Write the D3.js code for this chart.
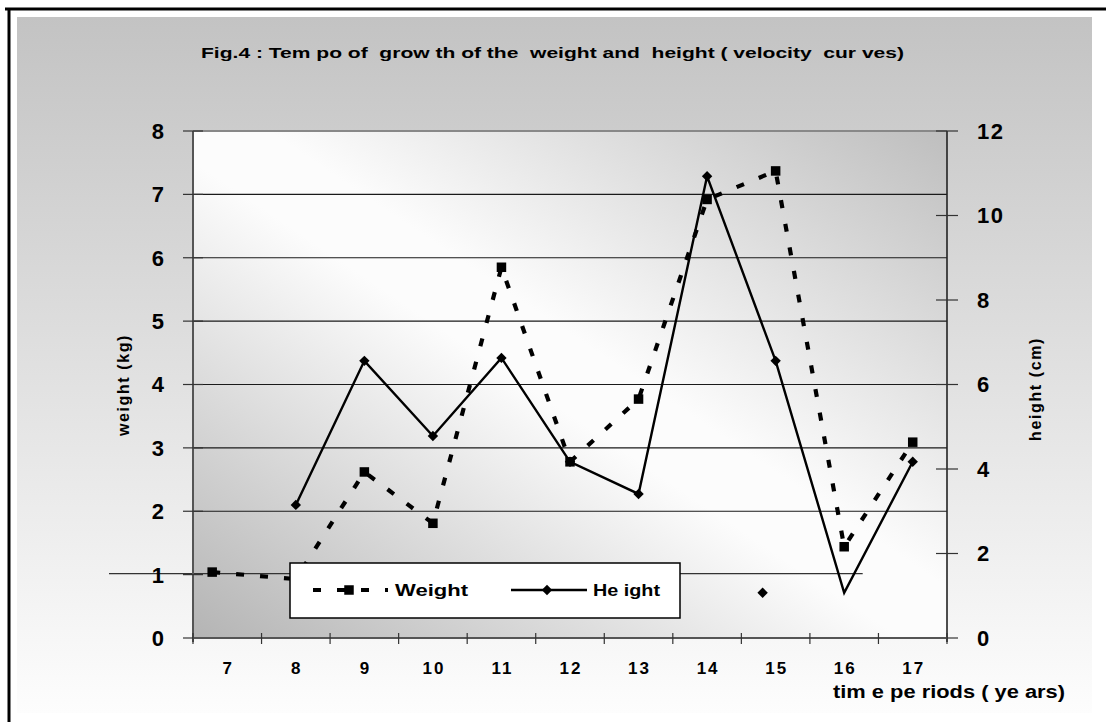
<!DOCTYPE html>
<html>
<head>
<meta charset="utf-8">
<script src="https://cdn.jsdelivr.net/npm/d3@7/dist/d3.min.js"></script>
<style>
  html, body { margin: 0; padding: 0; background: #ffffff; }
  svg { display: block; }
  text { font-family: "Liberation Sans", Arial, sans-serif; font-weight: bold; fill: #000; }
</style>
</head>
<body>
<svg id="chart" width="1106" height="722"></svg>
<script>
// Age periods (years) on the category axis
const years = [7, 8, 9, 10, 11, 12, 13, 14, 15, 16, 17];
// Yearly weight gain (kg), left axis
const weight = [1.04, 0.93, 2.62, 1.81, 5.85, 2.78, 3.77, 6.92, 7.37, 1.44, 3.09];
// Yearly height gain (cm), right axis
const height = [null, 3.15, 6.56, 4.78, 6.63, 4.17, 3.41, 10.93, 6.56, 1.07, 4.17];
// Where each marker sits along the time axis
const weightMarkerAt = [6.78, 8, 9, 10, 11, 12, 13, 14, 15, 16, 17];
const heightMarkerAt = [null, 8, 9, 10, 11, 12, 13, 14, 15, 14.81, 17];
// Tick values
const weightTicks = [0, 1, 2, 3, 4, 5, 6, 7, 8];
const heightTicks = [0, 2, 4, 6, 8, 10, 12];
const bandEdges = [6.5, 7.5, 8.5, 9.5, 10.5, 11.5, 12.5, 13.5, 14.5, 15.5, 16.5, 17.5];

const titleText = "Fig.4 : Tem po of  grow th of the  weight and  height ( velocity  cur ves)";
const xTitle = "tim e pe riods ( ye ars)";
const yLeftTitle = "weight (kg)";
const yRightTitle = "height (cm)";
const legendNames = ["Weight", "He ight"];

const svg = d3.select("#chart");
const W = 1106, H = 722;
const plot = { left: 193, right: 947, top: 131, bottom: 638 };

const x = d3.scaleLinear().domain([6.5, 17.5]).range([plot.left, plot.right]);
const yW = d3.scaleLinear().domain([0, 8]).range([plot.bottom, plot.top]);
const yH = d3.scaleLinear().domain([0, 12]).range([plot.bottom, plot.top]);

const defs = svg.append("defs");
const outerGrad = defs.append("linearGradient").attr("id", "outerGrad")
  .attr("x1", 0).attr("y1", 0).attr("x2", 0).attr("y2", 1);
outerGrad.append("stop").attr("offset", 0).attr("stop-color", "#c3c3c3");
outerGrad.append("stop").attr("offset", 1).attr("stop-color", "#fdfdfd");

const plotGrad = defs.append("linearGradient").attr("id", "plotGrad")
  .attr("x1", 0).attr("y1", 1).attr("x2", 1).attr("y2", 0);
plotGrad.append("stop").attr("offset", 0).attr("stop-color", "#b4b4b4");
plotGrad.append("stop").attr("offset", 0.47).attr("stop-color", "#fcfcfc");
plotGrad.append("stop").attr("offset", 0.55).attr("stop-color", "#fcfcfc");
plotGrad.append("stop").attr("offset", 1).attr("stop-color", "#bebebe");

// Frame
svg.append("rect").attr("x", 17).attr("y", 17).attr("width", 1075).attr("height", 696)
  .attr("fill", "url(#outerGrad)");
svg.append("line").attr("x1", 5).attr("x2", W).attr("y1", 9).attr("y2", 9)
  .attr("stroke", "#000").attr("stroke-width", 3);
svg.append("line").attr("x1", 9).attr("x2", 9).attr("y1", 8).attr("y2", H)
  .attr("stroke", "#000").attr("stroke-width", 3);

// Title
svg.append("text").attr("x", 201).attr("y", 58)
  .attr("font-size", 15).attr("textLength", 703).attr("lengthAdjust", "spacingAndGlyphs")
  .style("white-space", "pre")
  .text(titleText);

// Plot area
svg.append("rect")
  .attr("x", plot.left).attr("y", plot.top)
  .attr("width", plot.right - plot.left).attr("height", plot.bottom - plot.top)
  .attr("fill", "url(#plotGrad)");

// Horizontal gridlines on the weight scale
svg.append("g").selectAll("line")
  .data(weightTicks.filter(d => d >= 2 && d <= 7))
  .join("line")
  .attr("x1", plot.left).attr("x2", plot.right)
  .attr("y1", d => yW(d)).attr("y2", d => yW(d))
  .attr("stroke", "#1a1a1a").attr("stroke-width", 1.2);

// The 1 kg line runs out past the axis labels
svg.append("line")
  .attr("x1", plot.left - 84).attr("x2", x(16.27))
  .attr("y1", yW(1) - 1).attr("y2", yW(1) - 1)
  .attr("stroke", "#333").attr("stroke-width", 1.2);

// Top edge of plot
svg.append("line").attr("x1", plot.left).attr("x2", plot.right)
  .attr("y1", yW(8)).attr("y2", yW(8))
  .attr("stroke", "#888").attr("stroke-width", 2);

// Left axis
svg.append("line").attr("x1", plot.left).attr("x2", plot.left)
  .attr("y1", plot.top).attr("y2", plot.bottom + 4)
  .attr("stroke", "#555").attr("stroke-width", 2);
svg.append("g").selectAll("line").data(weightTicks).join("line")
  .attr("x1", plot.left - 10).attr("x2", plot.left + 10)
  .attr("y1", d => yW(d)).attr("y2", d => yW(d))
  .attr("stroke", "#333").attr("stroke-width", 1.2);
svg.append("g").selectAll("text").data(weightTicks).join("text")
  .attr("x", 164).attr("y", d => yW(d)).attr("dy", "0.36em")
  .attr("text-anchor", "end").attr("font-size", 22)
  .text(d => d);

// Right axis
svg.append("line").attr("x1", plot.right).attr("x2", plot.right)
  .attr("y1", plot.top).attr("y2", plot.bottom + 4)
  .attr("stroke", "#222").attr("stroke-width", 1.6);
svg.append("g").selectAll("line").data(heightTicks).join("line")
  .attr("x1", plot.right - 11).attr("x2", plot.right + 11)
  .attr("y1", d => yH(d)).attr("y2", d => yH(d))
  .attr("stroke", "#333").attr("stroke-width", 1.2);
svg.append("g").selectAll("text").data(heightTicks).join("text")
  .attr("x", 977).attr("y", d => yH(d)).attr("dy", "0.36em")
  .attr("text-anchor", "start").attr("font-size", 22).attr("letter-spacing", 1.5)
  .text(d => d);

// Bottom axis
svg.append("line").attr("x1", plot.left).attr("x2", plot.right)
  .attr("y1", plot.bottom).attr("y2", plot.bottom)
  .attr("stroke", "#555").attr("stroke-width", 2);
svg.append("g").selectAll("line").data(bandEdges).join("line")
  .attr("x1", d => x(d)).attr("x2", d => x(d))
  .attr("y1", plot.bottom - 5).attr("y2", plot.bottom + 6)
  .attr("stroke", "#333").attr("stroke-width", 1.2);
svg.append("g").selectAll("text").data(years).join("text")
  .attr("x", d => x(d) + 1).attr("y", 668).attr("dy", "0.36em")
  .attr("text-anchor", "middle").attr("font-size", 17).attr("letter-spacing", 2)
  .text(d => d);

// Axis titles
svg.append("text")
  .attr("transform", "translate(129,385) rotate(-90)")
  .attr("text-anchor", "middle").attr("font-size", 16).attr("letter-spacing", 1.6)
  .text(yLeftTitle);
svg.append("text")
  .attr("transform", "translate(1041,389) rotate(-90)")
  .attr("text-anchor", "middle").attr("font-size", 16).attr("letter-spacing", 1.6)
  .text(yRightTitle);
svg.append("text").attr("x", 833).attr("y", 698)
  .attr("font-size", 18).attr("textLength", 232).attr("lengthAdjust", "spacingAndGlyphs")
  .style("white-space", "pre")
  .text(xTitle);

// Series
const wPts = years.map((yr, i) => ({ at: weightMarkerAt[i], v: weight[i] }));
const hPts = years.map((yr, i) => ({ at: yr, v: height[i] }));

const wLine = d3.line().x(d => x(d.at)).y(d => yW(d.v));
const hLine = d3.line().defined(d => d.v != null).x(d => x(d.at)).y(d => yH(d.v));

svg.append("path").datum(hPts).attr("d", hLine)
  .attr("fill", "none").attr("stroke", "#000").attr("stroke-width", 2.4)
  .attr("stroke-linejoin", "miter");

svg.append("path").datum(wPts).attr("d", wLine)
  .attr("fill", "none").attr("stroke", "#000").attr("stroke-width", 4.2)
  .attr("stroke-dasharray", "8,16");

const sq = 9.5, dm = 5.2;
svg.append("g").selectAll("rect").data(wPts).join("rect")
  .attr("x", d => x(d.at) - sq / 2).attr("y", d => yW(d.v) - sq / 2)
  .attr("width", sq).attr("height", sq).attr("fill", "#000");

const hMarks = years.map((yr, i) => ({ at: heightMarkerAt[i], v: height[i] }))
  .filter(d => d.v != null && d.at != null);
svg.append("g").selectAll("path").data(hMarks).join("path")
  .attr("transform", d => `translate(${x(d.at)},${yH(d.v)})`)
  .attr("d", `M0,${-dm}L${dm},0L0,${dm}L${-dm},0Z`).attr("fill", "#000");

// Legend
const lg = svg.append("g");
lg.append("rect").attr("x", 290).attr("y", 563).attr("width", 390).attr("height", 55)
  .attr("fill", "#fff").attr("stroke", "#000").attr("stroke-width", 1.5);
const ly = 590;
lg.append("line").attr("x1", 313).attr("x2", 388).attr("y1", ly).attr("y2", ly)
  .attr("stroke", "#000").attr("stroke-width", 4.2).attr("stroke-dasharray", "8,16");
lg.append("rect").attr("x", 349 - sq / 2).attr("y", ly - sq / 2).attr("width", sq).attr("height", sq)
  .attr("fill", "#000");
lg.append("text").attr("x", 395).attr("y", ly).attr("dy", "0.36em")
  .attr("font-size", 17).attr("textLength", 73).attr("lengthAdjust", "spacingAndGlyphs")
  .style("white-space", "pre").text(legendNames[0]);
lg.append("line").attr("x1", 511).attr("x2", 587).attr("y1", ly).attr("y2", ly)
  .attr("stroke", "#000").attr("stroke-width", 2.4);
lg.append("path").attr("transform", `translate(547,${ly})`)
  .attr("d", `M0,${-dm}L${dm},0L0,${dm}L${-dm},0Z`).attr("fill", "#000");
lg.append("text").attr("x", 593).attr("y", ly).attr("dy", "0.36em")
  .attr("font-size", 17).attr("textLength", 67).attr("lengthAdjust", "spacingAndGlyphs")
  .style("white-space", "pre").text(legendNames[1]);
</script>
</body>
</html>
